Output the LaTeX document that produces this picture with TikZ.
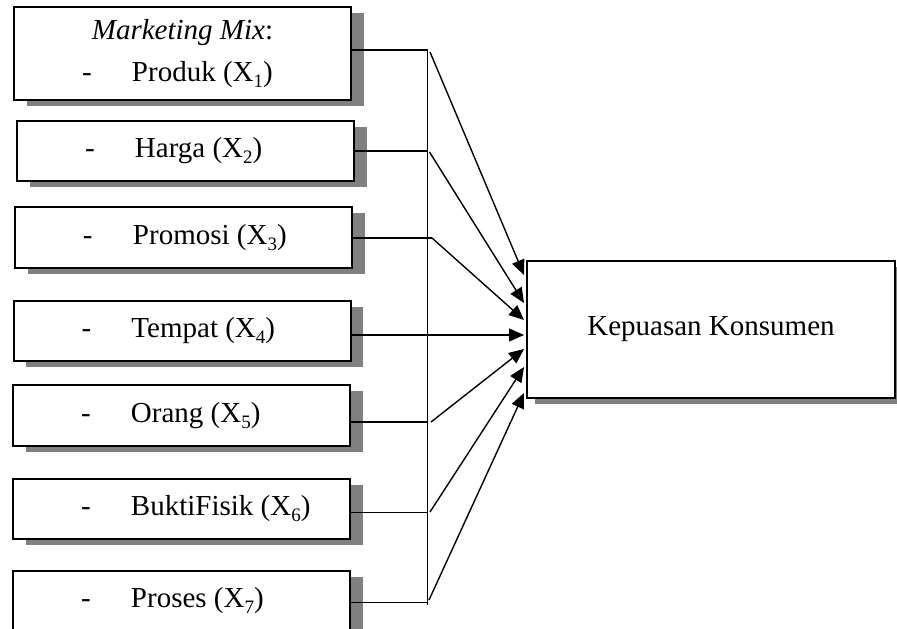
\documentclass[tikz,border=0pt]{standalone}
\usepackage{fontspec}
\setmainfont{Liberation Serif}
\usetikzlibrary{arrows.meta,shadows}

\newcommand{\mixitem}[2]{\makebox[337pt][l]{\hspace*{68pt}\makebox[50pt][l]{-}#1 (X\raisebox{-0.2em}{\fontsize{19}{19}\selectfont #2})}}

\tikzset{
	box/.style={draw,line width=2pt,fill=white,inner sep=0pt,minimum width=337pt,minimum height=60pt,
		drop shadow={shadow xshift=#1,shadow yshift=-5.5pt,opacity=1,fill=black!50}},
	box/.default=12.5pt,
}

\begin{document}
\begin{tikzpicture}[x=1pt,y=-1pt,line width=1.4pt,>={Triangle[length=15pt,width=13pt]},font=\fontsize{29}{42}\selectfont]
\useasboundingbox (0,0) rectangle (897,629);
%\draw[help lines] (0,0) grid[step=50] (897,629);
	\node[box,minimum height=93pt,align=center] at (182.5,53.5) (x1) {\textit{Marketing Mix}:\\ \mixitem{Produk}{1}};
	\node[box] at (185.5,151) (x2) {\mixitem{Harga}{2}};
	\node[box,minimum height=61pt] at (183.5,237.5) (x3) {\mixitem{Promosi}{3}};
	\node[box] at (182,331) (x4) {\mixitem{Tempat}{4}};
	\node[box,minimum height=61pt] at (181.5,415.5) (x5) {\mixitem{Orang}{5}};
	\node[box] at (181.5,509) (x6) {\mixitem{BuktiFisik}{6}};
	\node[box] at (181.5,601) (x7) {\mixitem{Proses}{7}};
	\node[box=8pt,minimum width=368pt,minimum height=137pt] at (711,329.5) (ky) {Kepuasan Konsumen};

	\coordinate (j1) at (427.5,50);
	\coordinate (j2) at (427.5,151);
	\coordinate (j3) at (432,238);
	\coordinate (j5) at (427.5,422);
	\coordinate (j6) at (427.5,512.5);
	\coordinate (j7) at (427.5,602.5);
	\draw (j1) -- ([yshift=-2.5pt]j7);
	\draw (x1.east |- j1) -- (j1);
	\draw (x2.east |- j2) -- (j2);
	\draw (x3.east |- j3) -- (j3);
	\draw (x5.east |- j5) -- (j5);
	\draw (x6.east |- j6) -- (j6);
	\draw (x7.east |- j7) -- (j7);

	\draw [->] ([xshift=2.5pt,yshift=-2pt]j1) -- ([xshift=-2pt,yshift=54.5pt]ky.west);
	\draw [->] ([xshift=2pt,yshift=-1pt]j2) -- ([xshift=-2pt,yshift=26.5pt]ky.west);
	\draw [->] (j3) -- ([xshift=-2pt,yshift=9.5pt]ky.west);
	\draw [->] ([yshift=-4pt]x4.east) -- ([xshift=-2pt,yshift=-5.5pt]ky.west);
	\draw [->] ([xshift=3.5pt]j5) -- ([xshift=-2pt,yshift=-19.5pt]ky.west);
	\draw [->] ([xshift=2.5pt,yshift=0.5pt]j6) -- ([xshift=-2pt,yshift=-37.5pt]ky.west);
	\draw [->] ([xshift=1.5pt,yshift=2.5pt]j7) -- ([xshift=-2pt,yshift=-63.5pt]ky.west);
\end{tikzpicture}
\end{document}
